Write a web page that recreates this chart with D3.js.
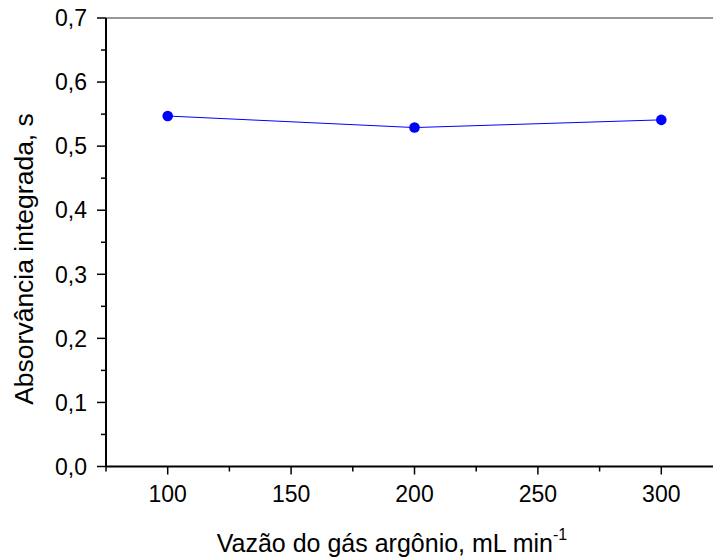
<!DOCTYPE html>
<html>
<head>
<meta charset="utf-8">
<script src="https://cdn.jsdelivr.net/npm/d3@7"></script>
<style>
  body { margin: 0; background: #fff; }
  svg { display: block; font-family: "Liberation Sans", Arial, sans-serif; }
</style>
</head>
<body>
<svg id="chart" width="713" height="558"></svg>
<script>
// data
var vazao = [100, 200, 300];
var absorvancia = [0.547, 0.529, 0.541];
var xTicks = [100, 150, 200, 250, 300];
var yTicks = [0, 0.1, 0.2, 0.3, 0.4, 0.5, 0.6, 0.7];

var svg = d3.select("#chart");
var plotLeft = 106, plotTop = 18, plotBottom = 466.5;

var x = d3.scaleLinear().domain([75, 325]).range([plotLeft, plotLeft + 617]);
var y = d3.scaleLinear().domain([0, 0.7]).range([plotBottom, plotTop]);
var fmt = function (d) { return d3.format(".1f")(d).replace(".", ","); };

// frame top line
svg.append("line")
  .attr("x1", plotLeft).attr("x2", 713)
  .attr("y1", plotTop).attr("y2", plotTop)
  .attr("stroke", "#333").attr("stroke-width", 1.2);

// y axis
var yAxis = svg.append("g").attr("transform", "translate(" + plotLeft + ",0)");
yAxis.append("line").attr("y1", plotTop).attr("y2", plotBottom).attr("stroke", "#000").attr("stroke-width", 2);
yAxis.selectAll(".minor").data(d3.range(0.05, 0.7, 0.1)).enter().append("line")
  .attr("x1", -5).attr("x2", 0)
  .attr("y1", function (d) { return y(d); }).attr("y2", function (d) { return y(d); })
  .attr("stroke", "#000").attr("stroke-width", 1.5);
yAxis.selectAll(".major").data(yTicks).enter().append("line")
  .attr("x1", -9).attr("x2", 0)
  .attr("y1", function (d) { return y(d); }).attr("y2", function (d) { return y(d); })
  .attr("stroke", "#000").attr("stroke-width", 1.5);
yAxis.selectAll("text").data(yTicks).enter().append("text")
  .attr("x", -19).attr("y", function (d) { return y(d); })
  .attr("dy", "0.36em").attr("text-anchor", "end")
  .attr("font-size", 23).text(fmt);

// x axis
var xAxis = svg.append("g").attr("transform", "translate(0," + plotBottom + ")");
xAxis.append("line").attr("x1", plotLeft).attr("x2", 713).attr("stroke", "#000").attr("stroke-width", 2);
xAxis.selectAll(".minor").data([75, 125, 175, 225, 275, 325]).enter().append("line")
  .attr("x1", function (d) { return x(d); }).attr("x2", function (d) { return x(d); })
  .attr("y1", 0).attr("y2", 5)
  .attr("stroke", "#000").attr("stroke-width", 1.5);
xAxis.selectAll(".major").data(xTicks).enter().append("line")
  .attr("x1", function (d) { return x(d); }).attr("x2", function (d) { return x(d); })
  .attr("y1", 0).attr("y2", 8)
  .attr("stroke", "#000").attr("stroke-width", 1.5);
xAxis.selectAll("text").data(xTicks).enter().append("text")
  .attr("x", function (d) { return x(d); }).attr("y", 35.5)
  .attr("text-anchor", "middle").attr("font-size", 23).text(function (d) { return d; });

// axis titles
var xt = svg.append("text").attr("x", 392).attr("y", 552)
  .attr("text-anchor", "middle").attr("font-size", 25);
xt.append("tspan").text("Vazão do gás argônio, mL min");
xt.append("tspan").attr("dy", -12).attr("font-size", 16).text("-1");

svg.append("text")
  .attr("transform", "translate(33,259) rotate(-90)")
  .attr("text-anchor", "middle").attr("font-size", 26.5)
  .text("Absorvância integrada, s");

// series
var line = d3.line()
  .x(function (d, i) { return x(vazao[i]); })
  .y(function (d) { return y(d); });
svg.append("path").datum(absorvancia)
  .attr("d", line).attr("fill", "none").attr("stroke", "#0000ff").attr("stroke-width", 1);
svg.selectAll(".pt").data(absorvancia).enter().append("circle")
  .attr("cx", function (d, i) { return x(vazao[i]); })
  .attr("cy", function (d) { return y(d); })
  .attr("r", 5.3).attr("fill", "#0000ff");
</script>
</body>
</html>
